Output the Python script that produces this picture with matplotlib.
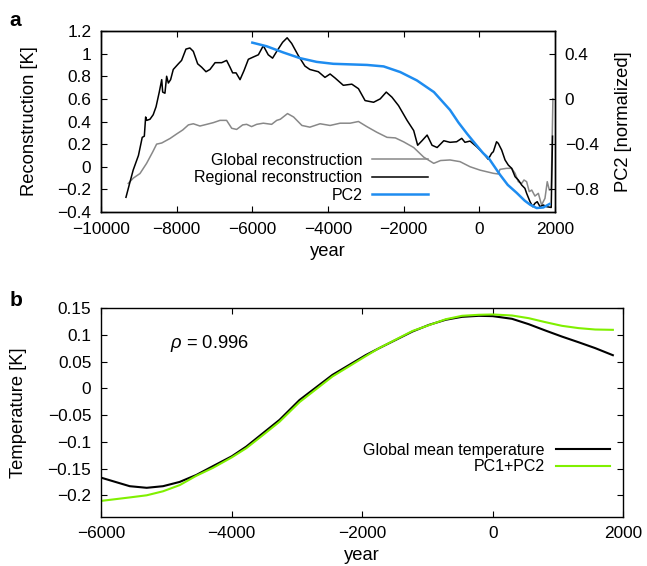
import matplotlib
matplotlib.use("Agg")
import matplotlib.pyplot as plt

plt.rcParams['font.family'] = ['Liberation Sans', 'DejaVu Sans']
plt.rcParams['mathtext.fontset'] = 'custom'
plt.rcParams['mathtext.it'] = 'Liberation Sans:italic'
plt.rcParams['mathtext.rm'] = 'Liberation Sans'
plt.rcParams['axes.linewidth'] = 1.0

# ---- panel a data ----
reg_years = [-9340, -9230, -9150, -9010, -8910, -8855, -8820, -8790, -8705, -8620,
             -8545, -8460, -8395, -8370, -8310, -8265, -8220, -8160, -8090, -7955,
             -7870, -7755, -7650, -7560, -7445, -7340, -7225, -7120, -6985, -6810,
             -6680, -6590, -6520, -6430, -6325, -6220, -6105, -5975, -5840, -5710,
             -5580, -5465, -5355, -5200, -5080, -4960, -4780, -4610, -4480, -4255,
             -4080, -3945, -3815, -3595, -3370, -3195, -3020, -2795, -2620, -2460,
             -2310, -2135, -1910, -1735, -1630, -1515, -1380, -1250, -1115, -940,
             -775, -600, -465, -380, -245, -70, 105, 235, 325, 370,
             455, 500, 590, 680, 765, 855, 945, 1030, 1120, 1205,
             1250, 1340, 1410, 1470, 1530, 1605, 1690, 1780, 1900, 1935]
reg_vals = [-0.27, -0.13, -0.03, 0.10, 0.26, 0.27, 0.44, 0.41, 0.42, 0.46,
            0.53, 0.66, 0.77, 0.66, 0.65, 0.80, 0.74, 0.77, 0.86, 0.91,
            0.94, 1.04, 1.05, 1.02, 0.91, 0.88, 0.84, 0.86, 0.92, 0.92,
            0.94, 0.88, 0.83, 0.83, 0.77, 0.85, 0.95, 0.97, 0.99, 1.07,
            0.99, 0.96, 1.02, 1.10, 1.14, 1.09, 0.98, 0.89, 0.86, 0.84,
            0.79, 0.82, 0.785, 0.72, 0.73, 0.69, 0.585, 0.57, 0.60, 0.66,
            0.615, 0.54, 0.41, 0.32, 0.19, 0.23, 0.28, 0.19, 0.17, 0.23,
            0.216, 0.221, 0.251, 0.216, 0.227, 0.177, 0.119, 0.066, 0.119, 0.133,
            0.221, 0.207, 0.148, 0.06, 0.015, -0.014, -0.088, -0.117, -0.162, -0.191,
            -0.235, -0.309, -0.353, -0.323, -0.309, -0.353, -0.338, -0.353, -0.36, 0.27]

glob_years = [-9280, -9145, -8970, -8795, -8635, -8530, -8395, -8175, -8000, -7840,
              -7690, -7560, -7385, -7205, -7030, -6855, -6680, -6545, -6415, -6255,
              -6150, -6020, -5885, -5710, -5490, -5355, -5260, -5070, -4910, -4690,
              -4480, -4210, -3945, -3680, -3415, -3195, -2975, -2710, -2440, -2220,
              -2000, -1735, -1470, -1205, -1025, -775, -510, -245, 20, 195,
              370, 500, 545, 720, 855, 945, 1030, 1120, 1180, 1250,
              1320, 1385, 1470, 1560, 1645, 1735, 1795, 1850, 1900, 1945]
glob_vals = [-0.147, -0.10, -0.06, 0.03, 0.13, 0.20, 0.21, 0.25, 0.29, 0.325,
             0.37, 0.38, 0.36, 0.375, 0.39, 0.41, 0.41, 0.34, 0.33, 0.37,
             0.375, 0.355, 0.375, 0.385, 0.375, 0.41, 0.42, 0.47, 0.44, 0.365,
             0.35, 0.38, 0.365, 0.385, 0.385, 0.40, 0.355, 0.305, 0.26, 0.255,
             0.22, 0.17, 0.085, 0.03, 0.055, 0.06, 0.045, 0.0, -0.03, -0.044,
             -0.058, -0.064, -0.023, -0.014, -0.014, -0.058, -0.132, -0.147, -0.117, -0.132,
             -0.22, -0.206, -0.259, -0.235, -0.338, -0.279, -0.132, -0.206, -0.20, 0.60]

pc2_years = [-6000, -5620, -5180, -4740, -4300, -3860, -3420, -2970, -2530, -2090,
             -1650, -1200, -775, -550, -320, -100, 100, 260, 545, 750,
             985, 1200, 1340, 1515, 1690, 1850]
pc2_vals = [0.497, 0.465, 0.41, 0.36, 0.327, 0.31, 0.305, 0.30, 0.287, 0.237,
            0.163, 0.06, -0.098, -0.21, -0.31, -0.40, -0.48, -0.53, -0.67, -0.76,
            -0.83, -0.90, -0.935, -0.965, -0.96, -0.93]

# ---- panel b data ----
gmt_years = [-6000, -5560, -5300, -5050, -4795, -4540, -4285, -3995, -3775, -3520,
             -3265, -2960, -2455, -1945, -1740, -1485, -1230, -975, -720, -470,
             -215, 0, 295, 550, 805, 1060, 1315, 1570, 1840]
gmt_vals = [-0.167, -0.183, -0.186, -0.183, -0.175, -0.162, -0.1455, -0.127, -0.109, -0.084,
            -0.059, -0.022, 0.025, 0.062, 0.0749, 0.0904, 0.106, 0.1185, 0.128, 0.1335,
            0.1354, 0.1348, 0.1298, 0.1198, 0.108, 0.0966, 0.086, 0.075, 0.0618]

pc_years = [-6000, -5560, -5300, -5050, -4795, -4540, -4285, -3995, -3775, -3520,
            -3265, -2960, -2455, -1945, -1740, -1230, -720, -470, -215, 0,
            295, 550, 805, 1060, 1315, 1570, 1840]
pc_vals = [-0.2105, -0.204, -0.20, -0.1925, -0.181, -0.1635, -0.1487, -0.129, -0.112, -0.0875,
           -0.0625, -0.026, 0.022, 0.060, 0.075, 0.107, 0.129, 0.1354, 0.1373, 0.1379,
           0.136, 0.131, 0.1236, 0.1167, 0.1124, 0.1098, 0.1092]

W, H = 647, 566
fig = plt.figure(figsize=(W / 100, H / 100), dpi=100)

def fx(px):
    return px / W

def fy(py):
    return 1 - py / H

tick_fs = 12.4
lab_fs = 13.2
leg_fs = 11.5

# panel a
ax = fig.add_axes([fx(101), fy(212), fx(555) - fx(101), fy(31) - fy(212)])
ax.plot(glob_years, glob_vals, color='#888888', lw=1.1, label='Global reconstruction')
ax.plot(reg_years, reg_vals, color='black', lw=1.1, label='Regional reconstruction')
ax.set_xlim(-10000, 2000)
ax.set_ylim(-0.4, 1.2)
ax.set_xticks(range(-10000, 2001, 2000))
ax.set_yticks([-0.4, -0.2, 0, 0.2, 0.4, 0.6, 0.8, 1.0, 1.2])
ax.set_yticklabels(['\u22120.4', '\u22120.2', '0', '0.2', '0.4', '0.6', '0.8', '1', '1.2'])
ax.tick_params(direction='in', length=4, width=0.8, labelsize=tick_fs, top=True, right=False, pad=7)

ax2 = ax.twinx()
ax2.plot(pc2_years, pc2_vals, color='#1e8cf0', lw=1.8, label='PC2')
ax2.set_ylim(-1.0, 0.6)
ax2.set_yticks([-0.8, -0.4, 0, 0.4])
ax2.set_yticklabels(['\u22120.8', '\u22120.4', '0', '0.4'])
ax2.tick_params(direction='in', length=4, width=0.8, labelsize=tick_fs, pad=7)

ax.set_xlabel('year', fontsize=lab_fs, va='center')
ax.xaxis.set_label_coords(0.5, (212 - 252) / 181)
ax.set_ylabel('Reconstruction [K]', fontsize=lab_fs, va='center')
ax.yaxis.set_label_coords((30 - 101) / 454, 0.5)
ax2.set_ylabel('PC2 [normalized]', fontsize=lab_fs, va='center')
ax2.yaxis.set_label_coords((623 - 101) / 454, 0.5)

h1, l1 = ax.get_legend_handles_labels()
h2, l2 = ax2.get_legend_handles_labels()
ax2.legend(h1 + h2, l1 + l2, loc='upper right', bbox_to_anchor=(fx(428), fy(153)),
           bbox_transform=fig.transFigure, frameon=False, markerfirst=False,
           handlelength=3.5, handletextpad=0.6, borderpad=0, borderaxespad=0,
           labelspacing=0.15, fontsize=leg_fs)

# panel b
bx = fig.add_axes([fx(101), fy(516.7), fx(623.3) - fx(101), fy(308) - fy(516.7)])
bx.plot(gmt_years, gmt_vals, color='black', lw=1.5, label='Global mean temperature')
bx.plot(pc_years, pc_vals, color='#80f000', lw=1.5, label='PC1+PC2')
bx.set_xlim(-6000, 2000)
bx.set_ylim(-0.24, 0.15)
bx.set_xticks(range(-6000, 2001, 2000))
yt = [-0.2, -0.15, -0.1, -0.05, 0, 0.05, 0.1, 0.15]
bx.set_yticks(yt)
bx.set_yticklabels(['\u22120.2', '\u22120.15', '\u22120.1', '\u22120.05', '0', '0.05', '0.1', '0.15'])
bx.tick_params(direction='in', length=4, width=0.8, labelsize=tick_fs, top=True, right=True, pad=7)
bx.set_xlabel('year', fontsize=lab_fs, va='center')
bx.xaxis.set_label_coords(0.5, (516.7 - 555) / 208.7)
bx.set_ylabel('Temperature [K]', fontsize=lab_fs, va='center')
bx.yaxis.set_label_coords((18.6 - 101) / 522.3, 0.5)
bx.legend(loc='upper right', bbox_to_anchor=(fx(610), fy(443)),
          bbox_transform=fig.transFigure, frameon=False, markerfirst=False,
          handlelength=3.4, handletextpad=0.67, borderpad=0, borderaxespad=0,
          labelspacing=0.08, fontsize=leg_fs)
fig.text(fx(170), fy(344), r'$\rho$ = 0.996', fontsize=lab_fs, va='center', ha='left')

fig.text(fx(15), fy(20), 'a', fontsize=15, fontweight='bold', ha='center', va='center')
fig.text(fx(16), fy(300), 'b', fontsize=15, fontweight='bold', ha='center', va='center')

fig.savefig('out.png', dpi=100)
